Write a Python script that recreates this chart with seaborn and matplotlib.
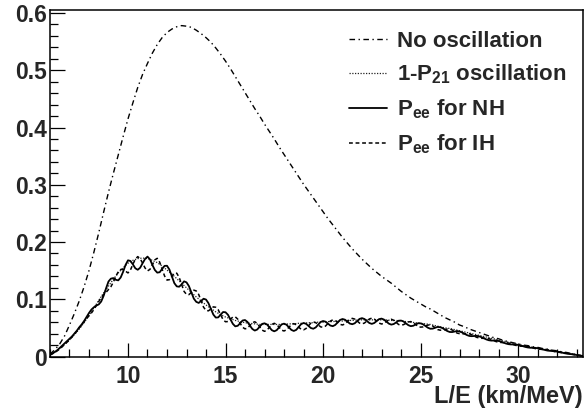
import matplotlib
matplotlib.use("Agg")
import matplotlib.pyplot as plt
import numpy as np
import pandas as pd
import seaborn as sns
from matplotlib.ticker import MultipleLocator, FuncFormatter

# L/E grids in km/MeV
le = np.arange(6.0, 33.51, 0.25)        # smooth curves
le_fine = np.arange(6.0, 33.51, 0.125)  # oscillating curves

no_osc = [0.004, 0.012, 0.022, 0.036, 0.055, 0.075, 0.097, 0.122,
          0.150, 0.182, 0.216, 0.252, 0.287, 0.320, 0.352, 0.384,
          0.415, 0.443, 0.470, 0.493, 0.512, 0.530, 0.545, 0.557,
          0.566, 0.572, 0.576, 0.578, 0.577, 0.575, 0.570, 0.564,
          0.557, 0.549, 0.539, 0.528, 0.516, 0.503, 0.489, 0.475,
          0.461, 0.447, 0.433, 0.420, 0.406, 0.393, 0.380, 0.366,
          0.353, 0.340, 0.327, 0.314, 0.301, 0.289, 0.277, 0.265,
          0.253, 0.241, 0.230, 0.219, 0.208, 0.198, 0.188, 0.179,
          0.170, 0.162, 0.154, 0.147, 0.140, 0.134, 0.128, 0.121,
          0.114, 0.108, 0.102, 0.097, 0.092, 0.087, 0.083, 0.078,
          0.073, 0.068, 0.064, 0.060, 0.055, 0.052, 0.048, 0.045,
          0.042, 0.039, 0.036, 0.033, 0.031, 0.028, 0.026, 0.024,
          0.022, 0.020, 0.019, 0.017, 0.016, 0.014, 0.013, 0.011,
          0.010, 0.008, 0.007, 0.005, 0.003, 0.0015, 0.0]

one_minus_p21 = [0.003, 0.008, 0.014, 0.021, 0.029, 0.038, 0.048, 0.059,
                 0.072, 0.085, 0.098, 0.111, 0.123, 0.135, 0.146, 0.155,
                 0.163, 0.168, 0.171, 0.172, 0.171, 0.168, 0.164, 0.158,
                 0.151, 0.144, 0.136, 0.128, 0.120, 0.112, 0.104, 0.097,
                 0.090, 0.084, 0.078, 0.073, 0.069, 0.066, 0.063, 0.061,
                 0.059, 0.058, 0.057, 0.056, 0.056, 0.056, 0.056, 0.056,
                 0.056, 0.057, 0.057, 0.058, 0.058, 0.059, 0.059, 0.060,
                 0.060, 0.061, 0.061, 0.062, 0.062, 0.063, 0.063, 0.064,
                 0.064, 0.064, 0.064, 0.064, 0.064, 0.064, 0.063, 0.063,
                 0.062, 0.061, 0.060, 0.059, 0.058, 0.057, 0.056, 0.054,
                 0.052, 0.050, 0.049, 0.047, 0.045, 0.043, 0.041, 0.039,
                 0.037, 0.035, 0.033, 0.031, 0.029, 0.027, 0.025, 0.023,
                 0.021, 0.019, 0.018, 0.016, 0.015, 0.013, 0.012, 0.0105,
                 0.009, 0.0075, 0.006, 0.0045, 0.003, 0.0015, 0.0]

pee_nh = [0.003, 0.005, 0.008, 0.011, 0.015, 0.019, 0.023, 0.027,
          0.031, 0.035, 0.040, 0.045, 0.051, 0.056, 0.062, 0.069,
          0.076, 0.082, 0.086, 0.089, 0.091, 0.096, 0.106, 0.119,
          0.131, 0.136, 0.137, 0.134, 0.133, 0.138, 0.148, 0.160,
          0.168, 0.1669, 0.161, 0.1541, 0.1515, 0.1551, 0.163, 0.1704,
          0.1745, 0.1698, 0.160, 0.1512, 0.1465, 0.1472, 0.153, 0.1583,
          0.1585, 0.1518, 0.140, 0.1282, 0.1225, 0.1219, 0.126, 0.1313,
          0.1295, 0.1229, 0.112, 0.1011, 0.0955, 0.0936, 0.097, 0.1009,
          0.0995, 0.0932, 0.083, 0.0733, 0.068, 0.0683, 0.073, 0.0777,
          0.0773, 0.0729, 0.065, 0.0571, 0.0527, 0.0536, 0.058, 0.0629,
          0.0637, 0.0604, 0.054, 0.0481, 0.0453, 0.0471, 0.052, 0.0569,
          0.058, 0.056, 0.051, 0.046, 0.044, 0.046, 0.051, 0.056,
          0.0574, 0.0555, 0.051, 0.0465, 0.0446, 0.0465, 0.0515, 0.0565,
          0.0585, 0.0572, 0.0535, 0.0498, 0.0485, 0.0508, 0.0555, 0.0602,
          0.062, 0.0609, 0.0575, 0.0541, 0.053, 0.0551, 0.0595, 0.0639,
          0.0655, 0.0643, 0.061, 0.0575, 0.0564, 0.058, 0.062, 0.0657,
          0.067, 0.0655, 0.062, 0.0585, 0.057, 0.0585, 0.062, 0.0653,
          0.0662, 0.0645, 0.061, 0.0574, 0.0557, 0.0567, 0.0596, 0.0625,
          0.0628, 0.0612, 0.058, 0.0547, 0.053, 0.0537, 0.056, 0.0581,
          0.0579, 0.0563, 0.0533, 0.0503, 0.0485, 0.0487, 0.0502, 0.0517,
          0.0512, 0.0496, 0.047, 0.0444, 0.0428, 0.0427, 0.0436, 0.0445,
          0.0437, 0.0421, 0.0398, 0.0375, 0.0359, 0.0355, 0.0358, 0.0361,
          0.0352, 0.0338, 0.0318, 0.0298, 0.0284, 0.0278, 0.0279, 0.028,
          0.0271, 0.0259, 0.0243, 0.0227, 0.0216, 0.0211, 0.021, 0.0209,
          0.0202, 0.0193, 0.018, 0.0167, 0.0158, 0.0153, 0.0152, 0.0151,
          0.0144, 0.0135, 0.0124, 0.0113, 0.0104, 0.0099, 0.0096, 0.0093,
          0.0086, 0.0078, 0.0068, 0.0058, 0.005, 0.0044, 0.004, 0.0036,
          0.0026, 0.0019, 0.0012, 0.0005, 0.0]

pee_ih = [0.003, 0.005, 0.007, 0.010, 0.013, 0.017, 0.021, 0.025,
          0.029, 0.034, 0.039, 0.044, 0.050, 0.055, 0.061, 0.066,
          0.071, 0.076, 0.082, 0.089, 0.096, 0.103, 0.108, 0.112,
          0.117, 0.122, 0.130, 0.140, 0.148, 0.152, 0.152, 0.149,
          0.146, 0.1511, 0.161, 0.1699, 0.1745, 0.1709, 0.163, 0.1546,
          0.1495, 0.1522, 0.160, 0.1688, 0.1715, 0.1648, 0.153, 0.1407,
          0.1335, 0.1342, 0.140, 0.1458, 0.1455, 0.1381, 0.126, 0.1137,
          0.1085, 0.1081, 0.112, 0.1159, 0.1145, 0.1084, 0.097, 0.0861,
          0.0805, 0.0798, 0.083, 0.0867, 0.086, 0.0817, 0.073, 0.0643,
          0.0607, 0.0611, 0.065, 0.0689, 0.0693, 0.0654, 0.058, 0.0511,
          0.0483, 0.0496, 0.054, 0.0589, 0.0607, 0.0579, 0.052, 0.0461,
          0.044, 0.046, 0.051, 0.056, 0.058, 0.056, 0.051, 0.046,
          0.0446, 0.0465, 0.051, 0.0555, 0.0574, 0.0555, 0.0515, 0.0475,
          0.0465, 0.0488, 0.0535, 0.0582, 0.0605, 0.0592, 0.0555, 0.0518,
          0.051, 0.0531, 0.0575, 0.0619, 0.064, 0.0629, 0.0595, 0.0561,
          0.0551, 0.0569, 0.061, 0.0649, 0.0666, 0.0654, 0.062, 0.0583,
          0.057, 0.0585, 0.062, 0.0655, 0.067, 0.0655, 0.062, 0.0583,
          0.0568, 0.0579, 0.061, 0.064, 0.0651, 0.0633, 0.0596, 0.0559,
          0.0548, 0.0556, 0.058, 0.0603, 0.061, 0.0593, 0.056, 0.0525,
          0.0513, 0.0517, 0.0533, 0.0549, 0.0551, 0.0533, 0.0502, 0.0471,
          0.046, 0.046, 0.047, 0.048, 0.048, 0.0463, 0.0436, 0.0409,
          0.0399, 0.0395, 0.0398, 0.0401, 0.0397, 0.0381, 0.0358, 0.0335,
          0.0324, 0.0318, 0.0318, 0.0318, 0.0312, 0.0298, 0.0279, 0.026,
          0.0251, 0.0245, 0.0243, 0.0241, 0.0236, 0.0225, 0.021, 0.0195,
          0.0186, 0.0181, 0.018, 0.0179, 0.0174, 0.0165, 0.0152, 0.0139,
          0.0132, 0.0127, 0.0124, 0.0121, 0.0116, 0.0107, 0.0096, 0.0085,
          0.0078, 0.0072, 0.0068, 0.0064, 0.0058, 0.005, 0.004, 0.003,
          0.0026, 0.0019, 0.0012, 0.0005, 0.0]

labels = ["No oscillation", r"1-P$_{\mathbf{21}}$ oscillation",
          r"P$_{\mathbf{ee}}$ for NH", r"P$_{\mathbf{ee}}$ for IH"]

smooth = pd.DataFrame({"LE": le, "noosc": no_osc, "p21": one_minus_p21})
osc = pd.DataFrame({"LE": le_fine, "nh": pee_nh, "ih": pee_ih})

sns.set_style("ticks")
plt.rcParams["font.family"] = ["Liberation Sans", "DejaVu Sans"]
plt.rcParams["font.weight"] = "bold"
plt.rcParams["mathtext.fontset"] = "custom"
plt.rcParams["mathtext.rm"] = "Liberation Sans:bold"
plt.rcParams["mathtext.it"] = "Liberation Sans:bold"
plt.rcParams["mathtext.bf"] = "Liberation Sans:bold"
plt.rcParams["mathtext.default"] = "bf"
plt.rcParams["xtick.direction"] = "in"
plt.rcParams["ytick.direction"] = "in"

fig = plt.figure(figsize=(5.88, 4.11), dpi=100)
ax = fig.add_axes([0.085, 0.1326, 0.9065, 0.8431])

sns.lineplot(data=smooth, x="LE", y="noosc", ax=ax, color="black", lw=1.0,
             linestyle=(0, (4, 2.5, 1, 2.5)), label=labels[0], estimator=None)
sns.lineplot(data=smooth, x="LE", y="p21", ax=ax, color="#222222", lw=0.9,
             linestyle=(0, (1, 1.2)), label=labels[1], estimator=None)
sns.lineplot(data=osc, x="LE", y="nh", ax=ax, color="black", lw=1.3,
             linestyle="-", label=labels[2], estimator=None)
sns.lineplot(data=osc, x="LE", y="ih", ax=ax, color="black", lw=1.1,
             linestyle=(0, (2.5, 1.8)), label=labels[3], estimator=None)

ax.set_xlim(6, 33.33)
ax.set_ylim(0, 0.6053)
ax.xaxis.set_major_locator(MultipleLocator(5))
ax.xaxis.set_minor_locator(MultipleLocator(1))
ax.yaxis.set_major_locator(MultipleLocator(0.1))
ax.yaxis.set_minor_locator(MultipleLocator(0.02))
ax.yaxis.set_major_formatter(FuncFormatter(lambda v, p: f"{v:g}"))
ax.tick_params(which="both", direction="in", bottom=True, left=True,
               top=False, right=False, width=0.9, color="black",
               labelsize=16.5)
ax.tick_params(axis="x", which="major", length=10, pad=6)
ax.tick_params(axis="y", which="major", length=11, pad=2)
ax.tick_params(which="minor", length=5.5)
for s in ax.spines.values():
    s.set_visible(True)
    s.set_linewidth(1.1)
    s.set_color("black")

ax.set_ylabel("")
ax.set_xlabel("L/E (km/MeV)", fontsize=17, fontweight="bold", loc="right")
ax.xaxis.set_label_coords(1.0, -0.083)

ax.legend(loc="upper left", bbox_to_anchor=(0.561, 0.94), frameon=False,
          fontsize=16, borderpad=0, borderaxespad=0, handlelength=1.7,
          handletextpad=0.45, labelspacing=0.5)

fig.savefig("out.png", dpi=100)
